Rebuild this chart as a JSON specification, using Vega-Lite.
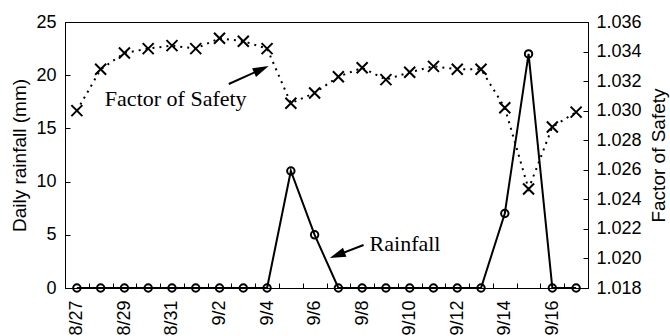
{
  "$schema": "https://vega.github.io/schema/vega-lite/v6.json",
  "width": 523,
  "height": 266,
  "autosize": "none",
  "padding": {"left": 65, "top": 22, "right": 82, "bottom": 48},
  "background": "white",
  "config": {
    "view": {"stroke": "black", "strokeWidth": 1},
    "axis": {
      "labelFont": "Liberation Sans",
      "titleFont": "Liberation Sans",
      "labelColor": "black",
      "titleColor": "black",
      "domainColor": "black",
      "tickColor": "black",
      "grid": false,
      "labelFontSize": 18,
      "titleFontSize": 19,
      "titleFontWeight": "normal"
    }
  },
  "datasets": {
    "series": [
      {"date": "2023-08-27", "rainfall": 0, "fos": 1.0300},
      {"date": "2023-08-28", "rainfall": 0, "fos": 1.0328},
      {"date": "2023-08-29", "rainfall": 0, "fos": 1.0339},
      {"date": "2023-08-30", "rainfall": 0, "fos": 1.0342},
      {"date": "2023-08-31", "rainfall": 0, "fos": 1.0344},
      {"date": "2023-09-01", "rainfall": 0, "fos": 1.0342},
      {"date": "2023-09-02", "rainfall": 0, "fos": 1.0349},
      {"date": "2023-09-03", "rainfall": 0, "fos": 1.0347},
      {"date": "2023-09-04", "rainfall": 0, "fos": 1.0342},
      {"date": "2023-09-05", "rainfall": 11.0, "fos": 1.0305},
      {"date": "2023-09-06", "rainfall": 5.0, "fos": 1.0312},
      {"date": "2023-09-07", "rainfall": 0, "fos": 1.0323},
      {"date": "2023-09-08", "rainfall": 0, "fos": 1.0329},
      {"date": "2023-09-09", "rainfall": 0, "fos": 1.0321},
      {"date": "2023-09-10", "rainfall": 0, "fos": 1.0326},
      {"date": "2023-09-11", "rainfall": 0, "fos": 1.0330},
      {"date": "2023-09-12", "rainfall": 0, "fos": 1.0328},
      {"date": "2023-09-13", "rainfall": 0, "fos": 1.0328},
      {"date": "2023-09-14", "rainfall": 7.0, "fos": 1.0302},
      {"date": "2023-09-15", "rainfall": 22.0, "fos": 1.0247},
      {"date": "2023-09-16", "rainfall": 0, "fos": 1.0289},
      {"date": "2023-09-17", "rainfall": 0, "fos": 1.0299}
    ]
  },
  "layer": [
    {
      "layer": [
        {
          "data": {"name": "series"},
          "mark": {"type": "line", "color": "black", "strokeWidth": 2},
          "encoding": {
            "x": {
              "field": "date", "type": "temporal",
              "scale": {"type": "utc", "nice": false, "domain": [
                {"year": 2023, "month": 8, "date": 26, "hours": 12, "utc": true},
                {"year": 2023, "month": 9, "date": 17, "hours": 12, "utc": true}
              ]},
              "axis": {
                "title": null,
                "format": "%-m/%-d",
                "labelAngle": 270,
                "tickCount": {"interval": "day", "step": 1},
                "labelExpr": "utcdayofyear(datum.value) % 2 == 1 ? datum.label : ''",
                "tickSize": -5,
                "tickOffset": 11.9,
                "labelOffset": -11.9,
                "labelPadding": 17,
                "labelFontSize": 18,
                "labelOverlap": false,
                "labelFlush": false
              }
            },
            "y": {
              "field": "rainfall", "type": "quantitative",
              "scale": {"domain": [0, 25], "nice": false},
              "axis": {
                "orient": "left",
                "title": "Daily rainfall (mm)",
                "values": [0, 5, 10, 15, 20, 25],
                "tickCount": 6,
                "tickSize": -5,
                "labelPadding": 14,
                "titlePadding": 6,
                "labelOverlap": false,
                "labelFlush": false
              }
            }
          }
        },
        {
          "data": {"name": "series"},
          "mark": {"type": "point", "shape": "circle", "filled": false, "color": "black", "strokeWidth": 2, "size": 55, "opacity": 1},
          "encoding": {
            "x": {"field": "date", "type": "temporal"},
            "y": {"field": "rainfall", "type": "quantitative"}
          }
        },
        {
          "data": {"values": [
            {"x": "2023-09-02T09:20:00Z", "y": 19.17, "x2": "2023-09-03T18:15:00Z", "y2": 20.55},
            {"x": "2023-09-08T01:25:00Z", "y": 4.04, "x2": "2023-09-06T22:50:00Z", "y2": 3.09}
          ], "format": {"parse": {"x": "date", "x2": "date"}}},
          "mark": {"type": "rule", "color": "black", "strokeWidth": 2},
          "encoding": {
            "x": {"field": "x", "type": "temporal"},
            "x2": {"field": "x2"},
            "y": {"field": "y", "type": "quantitative"},
            "y2": {"field": "y2"}
          }
        },
        {
          "data": {"values": [{"x": "2023-09-03T18:15:00Z", "y": 20.55}], "format": {"parse": {"x": "date"}}},
          "mark": {"type": "point", "shape": "M1,0L-1,-0.6L-1,0.6Z", "filled": true, "color": "black", "size": 256, "opacity": 1, "angle": 336},
          "encoding": {
            "x": {"field": "x", "type": "temporal"},
            "y": {"field": "y", "type": "quantitative"}
          }
        },
        {
          "data": {"values": [{"x": "2023-09-06T22:50:00Z", "y": 3.09}], "format": {"parse": {"x": "date"}}},
          "mark": {"type": "point", "shape": "M1,0L-1,-0.6L-1,0.6Z", "filled": true, "color": "black", "size": 256, "opacity": 1, "angle": 159},
          "encoding": {
            "x": {"field": "x", "type": "temporal"},
            "y": {"field": "y", "type": "quantitative"}
          }
        },
        {
          "data": {"values": [
            {"x": "2023-08-28T04:15:00Z", "y": 17.1, "label": "Factor of Safety"},
            {"x": "2023-09-08T07:30:00Z", "y": 3.48, "label": "Rainfall"}
          ], "format": {"parse": {"x": "date"}}},
          "mark": {"type": "text", "align": "left", "baseline": "alphabetic", "font": "Liberation Serif", "fontSize": 22, "color": "black"},
          "encoding": {
            "x": {"field": "x", "type": "temporal"},
            "y": {"field": "y", "type": "quantitative"},
            "text": {"field": "label"}
          }
        }
      ]
    },
    {
      "data": {"name": "series"},
      "layer": [
        {
          "mark": {"type": "line", "color": "black", "strokeWidth": 2, "strokeDash": [2, 5]},
          "encoding": {
            "x": {"field": "date", "type": "temporal"},
            "y": {
              "field": "fos", "type": "quantitative",
              "scale": {"domain": [1.018, 1.036], "nice": false, "zero": false},
              "axis": {
                "orient": "right",
                "title": "Factor of Safety",
                "values": [1.018, 1.020, 1.022, 1.024, 1.026, 1.028, 1.030, 1.032, 1.034, 1.036],
                "tickCount": 10,
                "format": ".3f",
                "tickSize": -5,
                "labelPadding": 13,
                "labelOverlap": false,
                "labelFlush": false,
                "titleAngle": 270,
                "titleBaseline": "top",
                "titlePadding": 8
              }
            }
          }
        },
        {
          "mark": {"type": "point", "shape": "M-1,-1L1,1M1,-1L-1,1", "filled": false, "color": "black", "strokeWidth": 2, "size": 121, "opacity": 1},
          "encoding": {
            "x": {"field": "date", "type": "temporal"},
            "y": {"field": "fos", "type": "quantitative"}
          }
        }
      ]
    }
  ],
  "resolve": {"scale": {"y": "independent"}, "axis": {"y": "independent"}}
}
